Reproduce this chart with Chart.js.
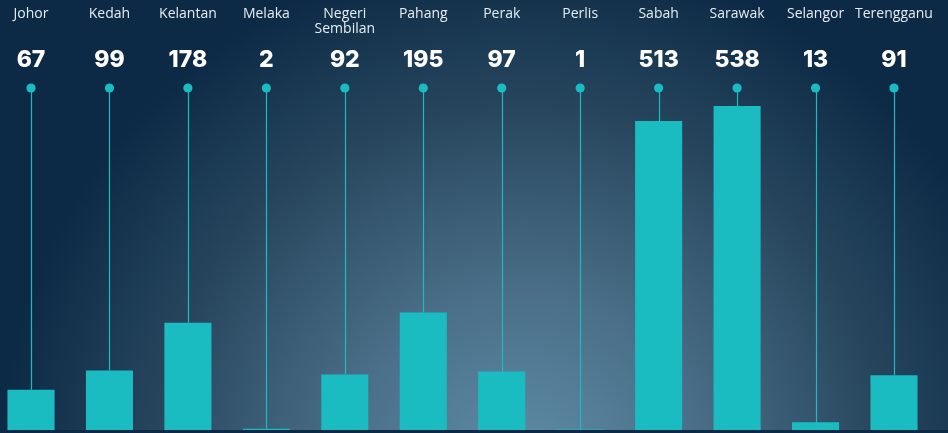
<!DOCTYPE html>
<html>
<head>
<meta charset="utf-8">
<script src="https://cdn.jsdelivr.net/npm/chart.js@4"></script>
<style>
  html, body { margin: 0; padding: 0; background: #0c2a45; }
  #wrap { position: relative; width: 948px; height: 433px; }
  canvas { display: block; }
</style>
</head>
<body>
<div id="wrap"><canvas id="c" width="948" height="433"></canvas></div>
<script>
const states = ["Johor", "Kedah", "Kelantan", "Melaka", ["Negeri", "Sembilan"], "Pahang", "Perak", "Perlis", "Sabah", "Sarawak", "Selangor", "Terengganu"];
const counts = [67, 99, 178, 2, 92, 195, 97, 1, 513, 538, 13, 91];

const TEAL = '#1abcc2';

const bgPlugin = {
  id: 'bg',
  beforeDraw(chart) {
    const ctx = chart.ctx;
    const w = chart.width, h = chart.height;
    ctx.save();
    const g = ctx.createRadialGradient(520, 470, 0, 520, 470, 520);
    g.addColorStop(0, '#5f8ea8');
    g.addColorStop(0.35, '#4a6e87');
    g.addColorStop(0.7, '#27465e');
    g.addColorStop(1, '#0c2a45');
    ctx.fillStyle = '#0c2a45';
    ctx.fillRect(0, 0, w, h);
    ctx.fillStyle = g;
    ctx.fillRect(0, 0, w, h);
    ctx.fillStyle = '#0c2a45';
    ctx.fillRect(0, chart.chartArea.bottom, w, h - chart.chartArea.bottom);
    ctx.restore();
  }
};

const stemPlugin = {
  id: 'stems',
  beforeDatasetsDraw(chart) {
    const ctx = chart.ctx;
    const meta = chart.getDatasetMeta(0);
    const yScale = chart.scales.y;
    ctx.save();
    ctx.strokeStyle = TEAL;
    ctx.lineWidth = 1.2;
    meta.data.forEach((bar, i) => {
      const x = Math.round(bar.x) + 0.5;
      ctx.beginPath();
      ctx.moveTo(x, 88);
      ctx.lineTo(x, yScale.getPixelForValue(counts[i]));
      ctx.stroke();
    });
    ctx.restore();
  },
  afterDatasetsDraw(chart) {
    const ctx = chart.ctx;
    const meta = chart.getDatasetMeta(0);
    ctx.save();
    meta.data.forEach((bar, i) => {
      const x = bar.x;
      ctx.fillStyle = TEAL;
      ctx.beginPath();
      ctx.arc(x, 88, 4.6, 0, Math.PI * 2);
      ctx.fill();
      ctx.fillStyle = '#e6edf2';
      ctx.font = '400 14px "Open Sans", sans-serif';
      ctx.textAlign = 'center';
      ctx.textBaseline = 'middle';
      const lbl = Array.isArray(states[i]) ? states[i] : [states[i]];
      lbl.forEach((t, k) => ctx.fillText(t, x, 14 + k * 15));
      ctx.fillStyle = '#ffffff';
      ctx.font = '800 23px "Inter", sans-serif';
      ctx.fillText(String(counts[i]), x, 60);
    });
    ctx.restore();
  }
};

new Chart(document.getElementById('c'), {
  type: 'bar',
  data: {
    labels: states,
    datasets: [{
      data: counts,
      backgroundColor: TEAL,
      borderWidth: 0,
      barPercentage: 0.6,
      categoryPercentage: 1,
      clip: false
    }]
  },
  options: {
    responsive: false,
    animation: false,
    devicePixelRatio: 1,
    layout: { padding: { left: 31, right: 54, top: 0, bottom: 3 } },
    plugins: { legend: { display: false }, tooltip: { enabled: false } },
    scales: {
      x: { display: false, offset: false },
      y: { display: false, min: 0, max: 714 }
    }
  },
  plugins: [bgPlugin, stemPlugin]
});
</script>
</body>
</html>
